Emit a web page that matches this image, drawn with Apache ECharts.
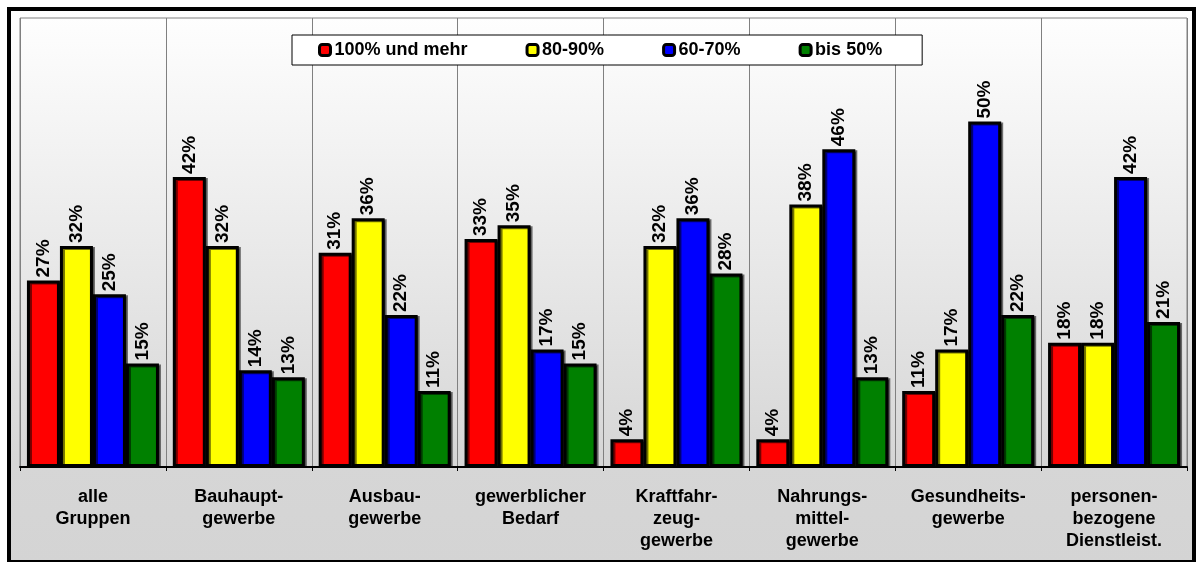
<!DOCTYPE html>
<html>
<head>
<meta charset="utf-8">
<title>Betriebe nach Gruppen</title>
<script src="https://cdn.jsdelivr.net/npm/echarts@6/dist/echarts.min.js"></script>
<style>
    html, body { margin: 0; padding: 0; background: #fff; }
    #main_bar { width: 1202px; height: 562px; }
</style>
</head>
<body>
<div id="main_bar"></div>
<script>
var categories = ["alle\nGruppen", "Bauhaupt-\ngewerbe", "Ausbau-\ngewerbe", "gewerblicher\nBedarf",
    "Kraftfahr-\nzeug-\ngewerbe", "Nahrungs-\nmittel-\ngewerbe", "Gesundheits-\ngewerbe", "personen-\nbezogene\nDienstleist."];
var seriesNames = ["100% und mehr", "80-90%", "60-70%", "bis 50%"];
var seriesColors = ["#ff0000", "#ffff00", "#0000ff", "#008000"];
var vals100 = [27, 42, 31, 33, 4, 4, 11, 18]; // 100% und mehr
var vals80 = [32, 32, 36, 35, 32, 38, 17, 18];  // 80-90%
var vals60 = [25, 14, 22, 17, 36, 46, 50, 42];  // 60-70%
var vals50 = [15, 13, 11, 15, 28, 13, 22, 21];  // bis 50%

(function () {
    var myChart = echarts.init(document.getElementById('main_bar'));
    var fontFam = '"Liberation Sans", Arial, sans-serif';
    var allVals = [vals100, vals80, vals60, vals50];

    var series = allVals.map(function (data, i) {
        return {
            name: seriesNames[i],
            type: 'bar',
            data: data,
            barWidth: 33,
            barGap: '0%',
            itemStyle: {
                color: seriesColors[i],
                borderColor: '#000',
                borderWidth: 3,
                shadowColor: 'rgba(0,0,0,0.55)',
                shadowOffsetX: 2,
                shadowOffsetY: 1,
                shadowBlur: 0
            },
            label: {
                show: true,
                position: 'top',
                rotate: 90,
                align: 'left',
                verticalAlign: 'middle',
                distance: 3,
                formatter: '{c}%',
                color: '#000',
                fontFamily: fontFam,
                fontWeight: 'bold',
                fontSize: 19
            }
        };
    });

    var option = {
        backgroundColor: '#fff',
        animation: false,
        graphic: [
            {
                type: 'rect',
                z: -10,
                silent: true,
                shape: { x: 9, y: 9, width: 1185, height: 553 },
                style: {
                    fill: {
                        type: 'linear', x: 0, y: 0, x2: 0, y2: 1,
                        colorStops: [
                            { offset: 0, color: '#ffffff' },
                            { offset: 0.82, color: '#d6d6d6' },
                            { offset: 1, color: '#d4d4d4' }
                        ]
                    },
                    stroke: '#000',
                    lineWidth: 4
                }
            }
        ],
        grid: {
            left: 20,
            right: 15,
            top: 18,
            bottom: 95,
            show: true,
            borderColor: '#808080',
            borderWidth: 1,
            backgroundColor: 'transparent'
        },
        legend: {
            data: seriesNames,
            left: 292,
            top: 35,
            padding: [6, 40, 6, 26],
            itemGap: 58,
            itemWidth: 11,
            itemHeight: 11,
            itemStyle: { borderColor: '#000', borderWidth: 3 },
            backgroundColor: '#fff',
            borderColor: '#000',
            borderWidth: 1,
            textStyle: {
                color: '#000',
                fontFamily: fontFam,
                fontWeight: 'bold',
                fontSize: 18,
                padding: [0, 0, 0, -1]
            }
        },
        xAxis: {
            type: 'category',
            data: categories,
            axisLine: { show: true, lineStyle: { color: '#000', width: 2 } },
            axisTick: { show: true, length: 4, lineStyle: { color: '#000' } },
            splitLine: { show: true, lineStyle: { color: '#808080', width: 1 } },
            axisLabel: {
                interval: 0,
                margin: 19,
                color: '#000',
                fontFamily: fontFam,
                fontWeight: 'bold',
                fontSize: 18,
                lineHeight: 22
            }
        },
        yAxis: {
            type: 'value',
            min: 0,
            max: 65,
            show: false,
            splitLine: { show: false }
        },
        series: series
    };

    myChart.setOption(option);
    window.addEventListener("resize", function () {
        myChart.resize();
    });
})();
</script>
</body>
</html>
